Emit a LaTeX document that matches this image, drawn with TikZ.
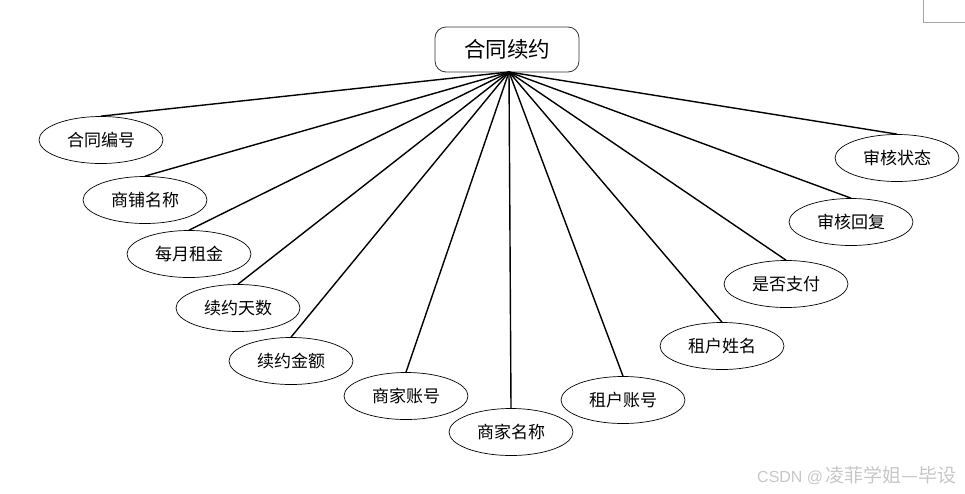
\documentclass[tikz,border=0pt]{standalone}
\usepackage{fontspec}
\usetikzlibrary{shapes.geometric}
\setmainfont{Liberation Sans}
\newfontfamily\cjk{Noto Sans CJK SC}
\begin{document}
\begin{tikzpicture}[x=1pt,y=-1pt,
  attr/.style={ellipse,draw=black,line width=0.7pt,minimum width=124pt,minimum height=47pt,inner sep=0pt,font=\cjk\fontsize{17}{17}\selectfont,fill=white},
  conn/.style={line width=1.4pt,black},
  topbox/.style={rectangle,rounded corners=11pt,draw=black!80,line width=0.8pt,minimum width=144pt,minimum height=45pt,inner sep=0pt,font=\cjk\fontsize{21.5}{21.5}\selectfont,fill=white}]
\useasboundingbox (0,0) rectangle (965,493);
\draw[black!35,line width=0.6pt] (923,0) -- (923,22) -- (965,22);
\node[topbox] (top) at (507,49.5) {合同续约};
\node[attr] (a1) at (101,140) {合同编号};
\node[attr] (a2) at (145,200) {商铺名称};
\node[attr] (a3) at (189,254) {每月租金};
\node[attr] (a4) at (238,308) {续约天数};
\node[attr] (a5) at (291,361) {续约金额};
\node[attr] (a6) at (406,396) {商家账号};
\node[attr] (a7) at (511,432) {商家名称};
\node[attr] (a8) at (623,400) {租户账号};
\node[attr] (a9) at (722,346) {租户姓名};
\node[attr] (a10) at (786,284) {是否支付};
\node[attr] (a11) at (851,222) {审核回复};
\node[attr] (a12) at (897,158) {审核状态};
\coordinate (hub) at (509,72);
\foreach \n in {a1,a2,a3,a4,a5,a6,a7,a8,a9,a10,a11,a12}
  \draw[conn] (hub) -- (\n.north);
\node[anchor=west,text=black!22,inner sep=0pt] (wm) at (757,476) {\fontsize{16}{16}\selectfont CSDN @\,{\cjk\fontsize{19}{19}\selectfont 凌菲学姐—毕设}};
\end{tikzpicture}
\end{document}
